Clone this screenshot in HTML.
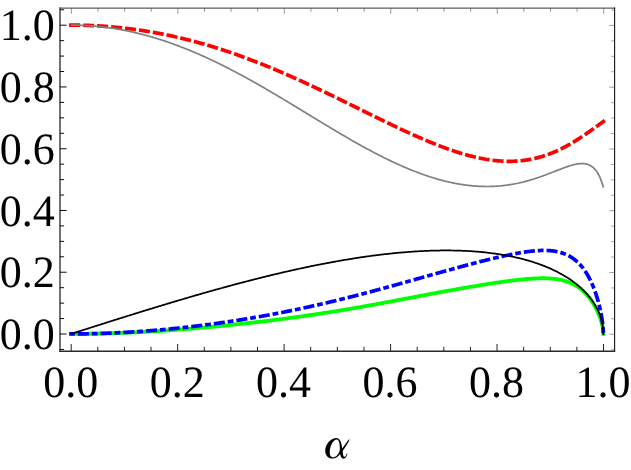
<!DOCTYPE html>
<html><head><meta charset="utf-8"><title>plot</title>
<style>
html,body{margin:0;padding:0;background:#fff;}
svg{display:block;will-change:transform;}
text{font-family:"Liberation Serif",serif;font-size:44px;fill:#000;text-rendering:geometricPrecision;}
.tb{stroke:#222;stroke-width:1.0;}
.tl{stroke:#000;stroke-width:0.95;}
.tt{stroke:#444;stroke-width:0.55;}
.tr{stroke:#555;stroke-width:0.55;}
.c{fill:none;stroke-linejoin:round;}
</style></head><body>
<svg width="631" height="470" viewBox="0 0 631 470">
<rect width="631" height="470" fill="#fff"/>
<!-- frame -->
<line x1="60.0" y1="7.6" x2="60.0" y2="352" stroke="#727272" stroke-width="2.0"/>
<line x1="59.3" y1="351.3" x2="615.1" y2="351.3" stroke="#2a2a2a" stroke-width="1.4"/>
<line x1="59.3" y1="8.2" x2="615.1" y2="8.2" stroke="#5a5a5a" stroke-width="1.3"/>
<line x1="614.6" y1="7.6" x2="614.6" y2="352" stroke="#111" stroke-width="1.1"/>
<line x1="71.20" y1="351" x2="71.20" y2="344.00" class="tb"/>
<line x1="71.40" y1="8" x2="71.40" y2="13.80" class="tt"/>
<line x1="97.81" y1="351" x2="97.81" y2="346.80" class="tb"/>
<line x1="98.02" y1="8" x2="98.02" y2="11.80" class="tt"/>
<line x1="124.43" y1="351" x2="124.43" y2="346.80" class="tb"/>
<line x1="124.63" y1="8" x2="124.63" y2="11.80" class="tt"/>
<line x1="151.04" y1="351" x2="151.04" y2="346.80" class="tb"/>
<line x1="151.25" y1="8" x2="151.25" y2="11.80" class="tt"/>
<line x1="177.66" y1="351" x2="177.66" y2="344.00" class="tb"/>
<line x1="177.86" y1="8" x2="177.86" y2="13.80" class="tt"/>
<line x1="204.27" y1="351" x2="204.27" y2="346.80" class="tb"/>
<line x1="204.47" y1="8" x2="204.47" y2="11.80" class="tt"/>
<line x1="230.89" y1="351" x2="230.89" y2="346.80" class="tb"/>
<line x1="231.09" y1="8" x2="231.09" y2="11.80" class="tt"/>
<line x1="257.50" y1="351" x2="257.50" y2="346.80" class="tb"/>
<line x1="257.70" y1="8" x2="257.70" y2="11.80" class="tt"/>
<line x1="284.12" y1="351" x2="284.12" y2="344.00" class="tb"/>
<line x1="284.32" y1="8" x2="284.32" y2="13.80" class="tt"/>
<line x1="310.73" y1="351" x2="310.73" y2="346.80" class="tb"/>
<line x1="310.93" y1="8" x2="310.93" y2="11.80" class="tt"/>
<line x1="337.35" y1="351" x2="337.35" y2="346.80" class="tb"/>
<line x1="337.55" y1="8" x2="337.55" y2="11.80" class="tt"/>
<line x1="363.96" y1="351" x2="363.96" y2="346.80" class="tb"/>
<line x1="364.16" y1="8" x2="364.16" y2="11.80" class="tt"/>
<line x1="390.58" y1="351" x2="390.58" y2="344.00" class="tb"/>
<line x1="390.78" y1="8" x2="390.78" y2="13.80" class="tt"/>
<line x1="417.19" y1="351" x2="417.19" y2="346.80" class="tb"/>
<line x1="417.39" y1="8" x2="417.39" y2="11.80" class="tt"/>
<line x1="443.81" y1="351" x2="443.81" y2="346.80" class="tb"/>
<line x1="444.01" y1="8" x2="444.01" y2="11.80" class="tt"/>
<line x1="470.42" y1="351" x2="470.42" y2="346.80" class="tb"/>
<line x1="470.62" y1="8" x2="470.62" y2="11.80" class="tt"/>
<line x1="497.04" y1="351" x2="497.04" y2="344.00" class="tb"/>
<line x1="497.24" y1="8" x2="497.24" y2="13.80" class="tt"/>
<line x1="523.65" y1="351" x2="523.65" y2="346.80" class="tb"/>
<line x1="523.85" y1="8" x2="523.85" y2="11.80" class="tt"/>
<line x1="550.27" y1="351" x2="550.27" y2="346.80" class="tb"/>
<line x1="550.47" y1="8" x2="550.47" y2="11.80" class="tt"/>
<line x1="576.88" y1="351" x2="576.88" y2="346.80" class="tb"/>
<line x1="577.08" y1="8" x2="577.08" y2="11.80" class="tt"/>
<line x1="603.50" y1="351" x2="603.50" y2="344.00" class="tb"/>
<line x1="603.70" y1="8" x2="603.70" y2="13.80" class="tt"/>
<line x1="60" y1="349.44" x2="64.10" y2="349.44" class="tl"/>
<line x1="614.5" y1="349.69" x2="611.20" y2="349.69" class="tr"/>
<line x1="60" y1="334.00" x2="66.60" y2="334.00" class="tl"/>
<line x1="614.5" y1="334.25" x2="609.20" y2="334.25" class="tr"/>
<line x1="60" y1="318.56" x2="64.10" y2="318.56" class="tl"/>
<line x1="614.5" y1="318.81" x2="611.20" y2="318.81" class="tr"/>
<line x1="60" y1="303.12" x2="64.10" y2="303.12" class="tl"/>
<line x1="614.5" y1="303.37" x2="611.20" y2="303.37" class="tr"/>
<line x1="60" y1="287.68" x2="64.10" y2="287.68" class="tl"/>
<line x1="614.5" y1="287.93" x2="611.20" y2="287.93" class="tr"/>
<line x1="60" y1="272.24" x2="66.60" y2="272.24" class="tl"/>
<line x1="614.5" y1="272.49" x2="609.20" y2="272.49" class="tr"/>
<line x1="60" y1="256.80" x2="64.10" y2="256.80" class="tl"/>
<line x1="614.5" y1="257.05" x2="611.20" y2="257.05" class="tr"/>
<line x1="60" y1="241.36" x2="64.10" y2="241.36" class="tl"/>
<line x1="614.5" y1="241.61" x2="611.20" y2="241.61" class="tr"/>
<line x1="60" y1="225.92" x2="64.10" y2="225.92" class="tl"/>
<line x1="614.5" y1="226.17" x2="611.20" y2="226.17" class="tr"/>
<line x1="60" y1="210.48" x2="66.60" y2="210.48" class="tl"/>
<line x1="614.5" y1="210.73" x2="609.20" y2="210.73" class="tr"/>
<line x1="60" y1="195.04" x2="64.10" y2="195.04" class="tl"/>
<line x1="614.5" y1="195.29" x2="611.20" y2="195.29" class="tr"/>
<line x1="60" y1="179.60" x2="64.10" y2="179.60" class="tl"/>
<line x1="614.5" y1="179.85" x2="611.20" y2="179.85" class="tr"/>
<line x1="60" y1="164.16" x2="64.10" y2="164.16" class="tl"/>
<line x1="614.5" y1="164.41" x2="611.20" y2="164.41" class="tr"/>
<line x1="60" y1="148.72" x2="66.60" y2="148.72" class="tl"/>
<line x1="614.5" y1="148.97" x2="609.20" y2="148.97" class="tr"/>
<line x1="60" y1="133.28" x2="64.10" y2="133.28" class="tl"/>
<line x1="614.5" y1="133.53" x2="611.20" y2="133.53" class="tr"/>
<line x1="60" y1="117.84" x2="64.10" y2="117.84" class="tl"/>
<line x1="614.5" y1="118.09" x2="611.20" y2="118.09" class="tr"/>
<line x1="60" y1="102.40" x2="64.10" y2="102.40" class="tl"/>
<line x1="614.5" y1="102.65" x2="611.20" y2="102.65" class="tr"/>
<line x1="60" y1="86.96" x2="66.60" y2="86.96" class="tl"/>
<line x1="614.5" y1="87.21" x2="609.20" y2="87.21" class="tr"/>
<line x1="60" y1="71.52" x2="64.10" y2="71.52" class="tl"/>
<line x1="614.5" y1="71.77" x2="611.20" y2="71.77" class="tr"/>
<line x1="60" y1="56.08" x2="64.10" y2="56.08" class="tl"/>
<line x1="614.5" y1="56.33" x2="611.20" y2="56.33" class="tr"/>
<line x1="60" y1="40.64" x2="64.10" y2="40.64" class="tl"/>
<line x1="614.5" y1="40.89" x2="611.20" y2="40.89" class="tr"/>
<line x1="60" y1="25.20" x2="66.60" y2="25.20" class="tl"/>
<line x1="614.5" y1="25.45" x2="609.20" y2="25.45" class="tr"/>
<line x1="60" y1="9.76" x2="64.10" y2="9.76" class="tl"/>
<line x1="614.5" y1="10.01" x2="611.20" y2="10.01" class="tr"/>
<path class="c" d="M71.00,333.90 L72.33,333.90 L73.10,333.90 L73.67,333.90 L75.00,333.89 L75.19,333.89 L76.34,333.89 L77.29,333.88 L77.67,333.88 L79.00,333.87 L79.38,333.87 L80.34,333.87 L81.48,333.86 L81.67,333.86 L83.01,333.84 L83.57,333.84 L84.34,333.83 L85.67,333.82 L85.67,333.82 L87.01,333.80 L87.76,333.79 L88.34,333.78 L89.68,333.76 L89.86,333.76 L91.01,333.74 L91.95,333.73 L92.35,333.72 L93.68,333.70 L94.04,333.69 L95.01,333.67 L96.14,333.65 L96.35,333.65 L97.68,333.62 L98.23,333.61 L99.02,333.59 L100.32,333.56 L100.35,333.56 L101.68,333.53 L102.42,333.51 L103.02,333.50 L104.35,333.46 L104.51,333.46 L105.69,333.43 L106.60,333.40 L107.02,333.39 L108.35,333.35 L108.69,333.35 L109.69,333.32 L110.78,333.28 L111.02,333.27 L112.36,333.23 L112.87,333.22 L113.69,333.19 L114.96,333.15 L115.02,333.15 L116.36,333.10 L117.05,333.08 L117.69,333.05 L119.03,333.00 L119.13,333.00 L120.36,332.95 L121.22,332.92 L121.70,332.90 L123.03,332.85 L123.30,332.84 L124.36,332.80 L125.39,332.75 L125.70,332.74 L127.03,332.69 L127.47,332.67 L128.37,332.63 L129.56,332.58 L129.70,332.57 L131.03,332.51 L131.64,332.48 L132.37,332.45 L133.70,332.39 L133.72,332.39 L135.04,332.32 L135.80,332.29 L136.37,332.26 L137.70,332.19 L137.88,332.18 L139.04,332.12 L139.96,332.08 L140.37,332.06 L141.71,331.99 L142.04,331.97 L143.04,331.92 L144.11,331.86 L144.37,331.84 L145.71,331.77 L146.19,331.74 L147.04,331.70 L148.26,331.63 L148.38,331.62 L149.71,331.54 L150.34,331.51 L151.05,331.47 L152.38,331.39 L152.41,331.39 L153.71,331.31 L154.48,331.26 L155.05,331.23 L156.38,331.14 L156.55,331.13 L157.72,331.06 L158.61,331.00 L159.05,330.98 L160.38,330.89 L160.68,330.87 L161.72,330.80 L162.74,330.74 L163.05,330.72 L164.39,330.63 L164.81,330.60 L165.72,330.54 L166.87,330.46 L167.05,330.45 L168.39,330.35 L168.93,330.32 L169.72,330.26 L170.99,330.17 L171.06,330.17 L172.39,330.07 L173.05,330.02 L173.72,329.98 L175.06,329.88 L175.10,329.87 L176.39,329.78 L177.16,329.72 L177.73,329.68 L179.06,329.58 L179.21,329.57 L180.39,329.48 L181.26,329.41 L181.73,329.38 L183.06,329.27 L183.31,329.25 L184.40,329.17 L185.36,329.09 L185.73,329.06 L187.07,328.96 L187.40,328.93 L188.40,328.85 L189.45,328.76 L189.73,328.74 L191.07,328.63 L191.49,328.60 L192.40,328.52 L193.53,328.43 L193.74,328.41 L195.07,328.30 L195.57,328.26 L196.40,328.19 L197.61,328.08 L197.74,328.07 L199.07,327.96 L199.64,327.91 L200.41,327.84 L201.67,327.73 L201.74,327.72 L203.07,327.61 L203.70,327.55 L204.41,327.49 L205.73,327.37 L205.74,327.37 L207.08,327.25 L207.76,327.19 L208.41,327.13 L209.74,327.00 L209.78,327.00 L211.08,326.88 L211.80,326.81 L212.41,326.76 L213.75,326.63 L213.82,326.63 L215.08,326.51 L215.84,326.43 L216.42,326.38 L217.75,326.25 L217.86,326.24 L219.08,326.12 L219.87,326.05 L220.42,325.99 L221.75,325.86 L221.88,325.85 L223.09,325.73 L223.89,325.65 L224.42,325.60 L225.75,325.47 L225.89,325.45 L227.09,325.33 L227.90,325.25 L228.42,325.20 L229.76,325.06 L229.90,325.05 L231.09,324.92 L231.90,324.84 L232.42,324.79 L233.76,324.65 L233.89,324.63 L235.09,324.51 L235.89,324.43 L236.43,324.37 L237.76,324.23 L237.88,324.21 L239.09,324.08 L239.87,324.00 L240.43,323.94 L241.76,323.80 L241.85,323.79 L243.10,323.65 L243.84,323.57 L244.43,323.51 L245.77,323.36 L245.82,323.35 L247.10,323.21 L247.80,323.14 L248.43,323.06 L249.77,322.91 L249.77,322.91 L251.10,322.76 L251.74,322.69 L252.44,322.61 L253.71,322.47 L253.77,322.46 L255.10,322.31 L255.68,322.24 L256.44,322.15 L257.64,322.01 L257.77,322.00 L259.11,321.84 L259.61,321.78 L260.44,321.69 L261.56,321.55 L261.77,321.53 L263.11,321.37 L263.52,321.32 L264.44,321.21 L265.47,321.08 L265.78,321.05 L267.11,320.89 L267.42,320.85 L268.44,320.72 L269.37,320.61 L269.78,320.56 L271.11,320.39 L271.31,320.37 L272.45,320.23 L273.25,320.13 L273.78,320.06 L275.12,319.89 L275.19,319.89 L276.45,319.73 L277.12,319.64 L277.78,319.56 L279.05,319.39 L279.12,319.39 L280.45,319.21 L280.98,319.15 L281.79,319.04 L282.90,318.90 L283.12,318.87 L284.45,318.69 L284.82,318.65 L285.79,318.52 L286.74,318.39 L287.12,318.34 L288.46,318.16 L288.65,318.14 L289.79,317.99 L290.56,317.88 L291.12,317.81 L292.46,317.62 L292.47,317.62 L293.79,317.44 L294.38,317.36 L295.13,317.26 L296.28,317.10 L296.46,317.08 L297.79,316.89 L298.17,316.84 L299.13,316.71 L300.07,316.57 L300.46,316.52 L301.80,316.33 L301.96,316.31 L303.13,316.14 L303.84,316.04 L304.46,315.95 L305.73,315.77 L305.80,315.76 L307.13,315.57 L307.60,315.50 L308.47,315.37 L309.48,315.23 L309.80,315.18 L311.14,314.98 L311.35,314.95 L312.47,314.79 L313.22,314.68 L313.80,314.59 L315.08,314.40 L315.14,314.39 L316.47,314.19 L316.94,314.12 L317.81,313.99 L318.80,313.84 L319.14,313.79 L320.47,313.58 L320.65,313.56 L321.81,313.38 L322.50,313.27 L323.14,313.18 L324.35,312.99 L324.48,312.97 L325.81,312.76 L326.19,312.70 L327.14,312.55 L328.02,312.42 L328.48,312.34 L329.81,312.13 L329.86,312.13 L331.15,311.92 L331.69,311.84 L332.48,311.71 L333.51,311.55 L333.81,311.50 L335.15,311.28 L335.33,311.25 L336.48,311.07 L337.15,310.96 L337.82,310.85 L338.96,310.66 L339.15,310.63 L340.49,310.41 L340.77,310.37 L341.82,310.19 L342.58,310.07 L343.15,309.97 L344.38,309.77 L344.49,309.75 L345.82,309.53 L346.17,309.47 L347.16,309.31 L347.96,309.17 L348.49,309.08 L349.75,308.87 L349.82,308.85 L351.16,308.63 L351.53,308.56 L352.49,308.40 L353.31,308.26 L353.83,308.17 L355.09,307.96 L355.16,307.94 L356.49,307.71 L356.86,307.65 L357.83,307.48 L358.62,307.34 L359.16,307.25 L360.38,307.04 L360.50,307.02 L361.83,306.78 L362.14,306.73 L363.16,306.55 L363.89,306.42 L364.50,306.31 L365.64,306.11 L365.83,306.08 L367.17,305.84 L367.38,305.80 L368.50,305.60 L369.12,305.49 L369.84,305.36 L370.86,305.18 L371.17,305.12 L372.50,304.88 L372.58,304.87 L373.84,304.64 L374.31,304.56 L375.17,304.40 L376.03,304.25 L376.51,304.16 L377.74,303.94 L377.84,303.92 L379.17,303.67 L379.45,303.62 L380.51,303.43 L381.16,303.31 L381.84,303.19 L382.86,303.00 L383.18,302.94 L384.51,302.69 L384.56,302.69 L385.84,302.45 L386.25,302.37 L387.18,302.20 L387.93,302.06 L388.51,301.95 L389.61,301.75 L389.85,301.71 L391.18,301.46 L391.29,301.44 L392.51,301.21 L392.96,301.13 L393.85,300.96 L394.63,300.81 L395.18,300.71 L396.29,300.50 L396.52,300.46 L397.85,300.21 L397.95,300.19 L399.18,299.96 L399.60,299.88 L400.52,299.71 L401.24,299.57 L401.85,299.46 L402.88,299.26 L403.19,299.21 L404.52,298.96 L404.52,298.96 L405.86,298.70 L406.15,298.65 L407.19,298.45 L407.78,298.34 L408.52,298.20 L409.40,298.04 L409.86,297.95 L411.01,297.73 L411.19,297.70 L412.53,297.45 L412.62,297.43 L413.86,297.19 L414.22,297.12 L415.19,296.94 L415.82,296.82 L416.53,296.69 L417.42,296.52 L417.86,296.44 L419.01,296.22 L419.20,296.19 L420.53,295.93 L420.59,295.92 L421.86,295.68 L422.17,295.63 L423.20,295.43 L423.74,295.33 L424.53,295.18 L425.31,295.03 L425.87,294.93 L426.87,294.74 L427.20,294.68 L428.42,294.45 L428.53,294.43 L429.87,294.18 L429.97,294.16 L431.20,293.93 L431.52,293.87 L432.54,293.68 L433.06,293.58 L433.87,293.43 L434.59,293.30 L435.21,293.18 L436.12,293.01 L436.54,292.93 L437.64,292.73 L437.87,292.69 L439.16,292.45 L439.21,292.44 L440.54,292.19 L440.67,292.17 L441.88,291.95 L442.17,291.89 L443.21,291.70 L443.67,291.62 L444.54,291.46 L445.16,291.34 L445.88,291.21 L446.65,291.07 L447.21,290.97 L448.13,290.80 L448.55,290.72 L449.61,290.53 L449.88,290.48 L451.08,290.27 L451.21,290.24 L452.54,290.00 L452.55,290.00 L453.88,289.76 L454.00,289.74 L455.22,289.52 L455.45,289.48 L456.55,289.28 L456.90,289.22 L457.88,289.05 L458.34,288.97 L459.22,288.81 L459.78,288.71 L460.55,288.58 L461.20,288.46 L461.89,288.34 L462.63,288.21 L463.22,288.11 L464.04,287.96 L464.56,287.87 L465.45,287.72 L465.89,287.64 L466.86,287.48 L467.22,287.41 L468.25,287.24 L468.56,287.18 L469.65,287.00 L469.89,286.96 L471.03,286.76 L471.23,286.73 L472.41,286.53 L472.56,286.50 L473.78,286.30 L473.89,286.28 L475.15,286.07 L475.23,286.05 L476.51,285.84 L476.56,285.83 L477.87,285.62 L477.90,285.61 L479.21,285.39 L479.23,285.39 L480.56,285.17 L480.56,285.17 L481.89,284.96 L481.90,284.96 L483.22,284.74 L483.23,284.74 L484.54,284.53 L484.57,284.53 L485.86,284.32 L485.90,284.31 L487.17,284.11 L487.23,284.10 L488.47,283.91 L488.57,283.90 L489.77,283.71 L489.90,283.69 L491.06,283.51 L491.24,283.48 L492.34,283.31 L492.57,283.28 L493.62,283.12 L493.91,283.08 L494.89,282.93 L495.24,282.88 L496.16,282.74 L496.57,282.68 L497.41,282.55 L497.91,282.48 L498.66,282.37 L499.24,282.29 L499.91,282.19 L500.58,282.10 L501.15,282.02 L501.91,281.91 L502.38,281.84 L503.24,281.72 L503.60,281.67 L504.58,281.54 L504.82,281.50 L505.91,281.35 L506.03,281.34 L507.23,281.18 L507.25,281.18 L508.43,281.02 L508.58,281.00 L509.62,280.87 L509.91,280.83 L510.81,280.71 L511.25,280.66 L511.98,280.57 L512.58,280.49 L513.15,280.42 L513.92,280.33 L514.32,280.28 L515.25,280.17 L515.47,280.14 L516.58,280.02 L516.62,280.01 L517.77,279.88 L517.92,279.87 L518.90,279.76 L519.25,279.72 L520.03,279.64 L520.59,279.58 L521.15,279.52 L521.92,279.44 L522.27,279.41 L523.25,279.31 L523.38,279.30 L524.48,279.20 L524.59,279.18 L525.57,279.10 L525.92,279.07 L526.66,279.00 L527.26,278.95 L527.74,278.91 L528.59,278.84 L528.81,278.83 L529.88,278.75 L529.93,278.74 L530.93,278.67 L531.26,278.65 L531.99,278.61 L532.59,278.57 L533.03,278.54 L533.93,278.49 L534.07,278.48 L535.10,278.43 L535.26,278.42 L536.12,278.39 L536.60,278.37 L537.13,278.35 L537.93,278.32 L538.14,278.31 L539.14,278.28 L539.26,278.28 L540.14,278.26 L540.60,278.26 L541.12,278.25 L541.93,278.24 L542.10,278.24 L543.08,278.24 L543.27,278.24 L544.04,278.25 L544.60,278.25 L545.00,278.26 L545.93,278.28 L545.95,278.28 L546.89,278.31 L547.27,278.33 L547.82,278.35 L548.60,278.39 L548.75,278.39 L549.67,278.45 L549.94,278.46 L550.59,278.51 L551.27,278.56 L551.49,278.58 L552.39,278.65 L552.60,278.67 L553.28,278.74 L553.94,278.81 L554.16,278.84 L555.04,278.94 L555.27,278.97 L555.91,279.06 L556.61,279.16 L556.77,279.18 L557.62,279.31 L557.94,279.36 L558.47,279.45 L559.28,279.60 L559.30,279.61 L560.13,279.77 L560.61,279.87 L560.96,279.94 L561.77,280.12 L561.94,280.16 L562.58,280.32 L563.28,280.49 L563.38,280.52 L564.17,280.73 L564.61,280.86 L564.96,280.96 L565.73,281.19 L565.95,281.26 L566.50,281.44 L567.27,281.70 L567.28,281.70 L568.02,281.96 L568.61,282.19 L568.77,282.24 L569.50,282.53 L569.95,282.71 L570.24,282.83 L570.96,283.15 L571.28,283.29 L571.67,283.47 L572.38,283.81 L572.62,283.92 L573.08,284.15 L573.77,284.51 L573.95,284.60 L574.46,284.88 L575.14,285.26 L575.28,285.34 L575.80,285.65 L576.46,286.05 L576.62,286.15 L577.12,286.46 L577.76,286.89 L577.95,287.02 L578.40,287.32 L579.03,287.77 L579.29,287.96 L579.65,288.23 L580.27,288.69 L580.62,288.97 L580.87,289.17 L581.47,289.66 L581.95,290.07 L582.06,290.16 L582.64,290.67 L583.22,291.19 L583.29,291.25 L583.78,291.71 L584.34,292.25 L584.62,292.53 L584.89,292.80 L585.43,293.35 L585.96,293.91 L585.97,293.92 L586.49,294.49 L587.01,295.07 L587.29,295.39 L587.52,295.66 L588.02,296.26 L588.52,296.86 L588.63,296.99 L589.01,297.47 L589.48,298.09 L589.95,298.71 L589.96,298.72 L590.42,299.34 L590.87,299.97 L591.29,300.58 L591.32,300.61 L591.75,301.26 L592.18,301.91 L592.61,302.56 L592.63,302.59 L593.02,303.22 L593.43,303.88 L593.82,304.54 L593.96,304.77 L594.21,305.20 L594.60,305.87 L594.97,306.54 L595.30,307.14 L595.33,307.21 L595.69,307.88 L596.04,308.55 L596.38,309.22 L596.63,309.72 L596.71,309.89 L597.04,310.56 L597.35,311.23 L597.66,311.89 L597.96,312.56 L597.96,312.56 L598.25,313.22 L598.54,313.88 L598.81,314.53 L599.08,315.19 L599.30,315.73 L599.34,315.83 L599.59,316.48 L599.83,317.12 L600.07,317.75 L600.30,318.38 L600.51,319.01 L600.63,319.36 L600.72,319.63 L600.93,320.25 L601.12,320.86 L601.30,321.46 L601.48,322.06 L601.65,322.65 L601.81,323.24 L601.96,323.83 L601.97,323.83 L602.11,324.40 L602.24,324.98 L602.37,325.55 L602.49,326.11 L602.60,326.67 L602.71,327.23 L602.80,327.78 L602.89,328.34 L602.97,328.89 L603.04,329.44 L603.10,329.98 L603.15,330.53 L603.20,331.08 L603.23,331.64 L603.26,332.20 L603.28,332.76 L603.30,333.32 L603.30,333.90 L603.65,335.77" stroke="#00ff00" stroke-width="3.8"/>
<path class="c" d="M69.10,333.90 L71.00,333.90 L72.33,333.90 L73.10,333.90 L73.67,333.90 L75.00,333.89 L75.19,333.89 L76.34,333.89 L77.29,333.88 L77.67,333.88 L79.00,333.87 L79.38,333.86 L80.34,333.85 L81.48,333.84 L81.67,333.84 L83.01,333.83 L83.57,333.82 L84.34,333.81 L85.67,333.79 L85.67,333.79 L87.01,333.77 L87.76,333.75 L88.34,333.74 L89.68,333.72 L89.86,333.72 L91.01,333.69 L91.95,333.67 L92.35,333.66 L93.68,333.63 L94.04,333.62 L95.01,333.60 L96.14,333.57 L96.35,333.57 L97.68,333.53 L98.23,333.52 L99.02,333.49 L100.32,333.45 L100.35,333.45 L101.68,333.41 L102.42,333.39 L103.02,333.37 L104.35,333.32 L104.51,333.32 L105.69,333.28 L106.60,333.24 L107.02,333.23 L108.35,333.18 L108.69,333.17 L109.69,333.13 L110.78,333.08 L111.02,333.07 L112.36,333.02 L112.87,332.99 L113.69,332.96 L114.96,332.90 L115.02,332.90 L116.36,332.84 L117.05,332.81 L117.69,332.78 L119.03,332.71 L119.13,332.71 L120.36,332.64 L121.22,332.60 L121.70,332.58 L123.03,332.51 L123.30,332.49 L124.36,332.43 L125.39,332.38 L125.70,332.36 L127.03,332.28 L127.47,332.26 L128.37,332.21 L129.56,332.14 L129.70,332.13 L131.03,332.05 L131.64,332.01 L132.37,331.97 L133.70,331.88 L133.72,331.88 L135.04,331.80 L135.80,331.75 L136.37,331.71 L137.70,331.62 L137.88,331.61 L139.04,331.53 L139.96,331.46 L140.37,331.44 L141.71,331.34 L142.04,331.32 L143.04,331.24 L144.11,331.17 L144.37,331.15 L145.71,331.05 L146.19,331.01 L147.04,330.95 L148.26,330.85 L148.38,330.84 L149.71,330.74 L150.34,330.69 L151.05,330.63 L152.38,330.52 L152.41,330.52 L153.71,330.41 L154.48,330.35 L155.05,330.30 L156.38,330.19 L156.55,330.18 L157.72,330.07 L158.61,330.00 L159.05,329.96 L160.38,329.84 L160.68,329.81 L161.72,329.72 L162.74,329.63 L163.05,329.60 L164.39,329.48 L164.81,329.44 L165.72,329.35 L166.87,329.24 L167.05,329.22 L168.39,329.10 L168.93,329.04 L169.72,328.97 L170.99,328.84 L171.06,328.84 L172.39,328.70 L173.05,328.64 L173.72,328.57 L175.06,328.43 L175.10,328.43 L176.39,328.30 L177.16,328.22 L177.73,328.16 L179.06,328.01 L179.21,328.00 L180.39,327.87 L181.26,327.78 L181.73,327.73 L183.06,327.58 L183.31,327.56 L184.40,327.44 L185.36,327.33 L185.73,327.29 L187.07,327.14 L187.40,327.10 L188.40,326.98 L189.45,326.86 L189.73,326.83 L191.07,326.68 L191.49,326.63 L192.40,326.52 L193.53,326.38 L193.74,326.36 L195.07,326.20 L195.57,326.14 L196.40,326.04 L197.61,325.89 L197.74,325.88 L199.07,325.71 L199.64,325.64 L200.41,325.54 L201.67,325.39 L201.74,325.38 L203.07,325.21 L203.70,325.13 L204.41,325.04 L205.73,324.87 L205.74,324.86 L207.08,324.69 L207.76,324.60 L208.41,324.51 L209.74,324.34 L209.78,324.33 L211.08,324.16 L211.80,324.06 L212.41,323.98 L213.75,323.80 L213.82,323.79 L215.08,323.61 L215.84,323.51 L216.42,323.43 L217.75,323.24 L217.86,323.23 L219.08,323.06 L219.87,322.94 L220.42,322.87 L221.75,322.67 L221.88,322.66 L223.09,322.48 L223.89,322.37 L224.42,322.29 L225.75,322.09 L225.89,322.07 L227.09,321.90 L227.90,321.78 L228.42,321.70 L229.76,321.50 L229.90,321.47 L231.09,321.29 L231.90,321.17 L232.42,321.09 L233.76,320.89 L233.89,320.87 L235.09,320.68 L235.89,320.56 L236.43,320.47 L237.76,320.26 L237.88,320.24 L239.09,320.05 L239.87,319.93 L240.43,319.84 L241.76,319.63 L241.85,319.61 L243.10,319.41 L243.84,319.29 L244.43,319.19 L245.77,318.97 L245.82,318.97 L247.10,318.75 L247.80,318.64 L248.43,318.53 L249.77,318.31 L249.77,318.31 L251.10,318.08 L251.74,317.97 L252.44,317.86 L253.71,317.64 L253.77,317.63 L255.10,317.40 L255.68,317.30 L256.44,317.17 L257.64,316.96 L257.77,316.94 L259.11,316.70 L259.61,316.61 L260.44,316.47 L261.56,316.27 L261.77,316.23 L263.11,315.99 L263.52,315.92 L264.44,315.75 L265.47,315.56 L265.78,315.51 L267.11,315.26 L267.42,315.21 L268.44,315.02 L269.37,314.85 L269.78,314.77 L271.11,314.52 L271.31,314.49 L272.45,314.27 L273.25,314.12 L273.78,314.02 L275.12,313.77 L275.19,313.76 L276.45,313.51 L277.12,313.39 L277.78,313.26 L279.05,313.01 L279.12,313.00 L280.45,312.74 L280.98,312.64 L281.79,312.48 L282.90,312.26 L283.12,312.22 L284.45,311.95 L284.82,311.88 L285.79,311.69 L286.74,311.50 L287.12,311.42 L288.46,311.15 L288.65,311.11 L289.79,310.88 L290.56,310.73 L291.12,310.61 L292.46,310.34 L292.47,310.34 L293.79,310.06 L294.38,309.94 L295.13,309.79 L296.28,309.55 L296.46,309.51 L297.79,309.23 L298.17,309.15 L299.13,308.95 L300.07,308.75 L300.46,308.67 L301.80,308.38 L301.96,308.35 L303.13,308.10 L303.84,307.94 L304.46,307.81 L305.73,307.53 L305.80,307.52 L307.13,307.23 L307.60,307.13 L308.47,306.94 L309.48,306.71 L309.80,306.64 L311.14,306.35 L311.35,306.30 L312.47,306.05 L313.22,305.88 L313.80,305.75 L315.08,305.47 L315.14,305.45 L316.47,305.15 L316.94,305.05 L317.81,304.85 L318.80,304.62 L319.14,304.55 L320.47,304.24 L320.65,304.20 L321.81,303.93 L322.50,303.77 L323.14,303.62 L324.35,303.34 L324.48,303.31 L325.81,303.00 L326.19,302.91 L327.14,302.69 L328.02,302.48 L328.48,302.37 L329.81,302.06 L329.86,302.05 L331.15,301.74 L331.69,301.61 L332.48,301.42 L333.51,301.17 L333.81,301.10 L335.15,300.78 L335.33,300.73 L336.48,300.46 L337.15,300.29 L337.82,300.13 L338.96,299.85 L339.15,299.80 L340.49,299.48 L340.77,299.41 L341.82,299.15 L342.58,298.96 L343.15,298.82 L344.38,298.51 L344.49,298.49 L345.82,298.15 L346.17,298.07 L347.16,297.82 L347.96,297.62 L348.49,297.48 L349.75,297.17 L349.82,297.15 L351.16,296.81 L351.53,296.71 L352.49,296.47 L353.31,296.26 L353.83,296.13 L355.09,295.81 L355.16,295.79 L356.49,295.44 L356.86,295.35 L357.83,295.10 L358.62,294.89 L359.16,294.75 L360.38,294.44 L360.50,294.41 L361.83,294.06 L362.14,293.98 L363.16,293.71 L363.89,293.52 L364.50,293.36 L365.64,293.06 L365.83,293.01 L367.17,292.66 L367.38,292.60 L368.50,292.30 L369.12,292.14 L369.84,291.95 L370.86,291.68 L371.17,291.60 L372.50,291.24 L372.58,291.22 L373.84,290.88 L374.31,290.76 L375.17,290.52 L376.03,290.29 L376.51,290.16 L377.74,289.83 L377.84,289.80 L379.17,289.44 L379.45,289.37 L380.51,289.08 L381.16,288.90 L381.84,288.72 L382.86,288.44 L383.18,288.36 L384.51,287.99 L384.56,287.98 L385.84,287.63 L386.25,287.52 L387.18,287.26 L387.93,287.05 L388.51,286.89 L389.61,286.59 L389.85,286.53 L391.18,286.16 L391.29,286.13 L392.51,285.79 L392.96,285.67 L393.85,285.42 L394.63,285.20 L395.18,285.05 L396.29,284.74 L396.52,284.68 L397.85,284.31 L397.95,284.28 L399.18,283.94 L399.60,283.82 L400.52,283.57 L401.24,283.36 L401.85,283.19 L402.88,282.91 L403.19,282.82 L404.52,282.45 L404.52,282.45 L405.86,282.07 L406.15,281.99 L407.19,281.70 L407.78,281.54 L408.52,281.33 L409.40,281.08 L409.86,280.95 L411.01,280.63 L411.19,280.58 L412.53,280.20 L412.62,280.18 L413.86,279.83 L414.22,279.72 L415.19,279.45 L415.82,279.27 L416.53,279.08 L417.42,278.83 L417.86,278.70 L419.01,278.38 L419.20,278.33 L420.53,277.95 L420.59,277.93 L421.86,277.57 L422.17,277.49 L423.20,277.20 L423.74,277.05 L424.53,276.82 L425.31,276.61 L425.87,276.45 L426.87,276.17 L427.20,276.07 L428.42,275.73 L428.53,275.70 L429.87,275.32 L429.97,275.29 L431.20,274.95 L431.52,274.86 L432.54,274.57 L433.06,274.43 L433.87,274.20 L434.59,274.00 L435.21,273.83 L436.12,273.57 L436.54,273.45 L437.64,273.15 L437.87,273.08 L439.16,272.72 L439.21,272.71 L440.54,272.34 L440.67,272.30 L441.88,271.96 L442.17,271.88 L443.21,271.59 L443.67,271.46 L444.54,271.22 L445.16,271.05 L445.88,270.85 L446.65,270.64 L447.21,270.48 L448.13,270.23 L448.55,270.11 L449.61,269.82 L449.88,269.75 L451.08,269.42 L451.21,269.38 L452.54,269.01 L452.55,269.01 L453.88,268.65 L454.00,268.61 L455.22,268.28 L455.45,268.22 L456.55,267.92 L456.90,267.82 L457.88,267.55 L458.34,267.43 L459.22,267.19 L459.78,267.04 L460.55,266.83 L461.20,266.65 L461.89,266.47 L462.63,266.27 L463.22,266.11 L464.04,265.89 L464.56,265.75 L465.45,265.51 L465.89,265.40 L466.86,265.14 L467.22,265.04 L468.25,264.77 L468.56,264.69 L469.65,264.40 L469.89,264.33 L471.03,264.03 L471.23,263.98 L472.41,263.67 L472.56,263.63 L473.78,263.31 L473.89,263.28 L475.15,262.96 L475.23,262.94 L476.51,262.60 L476.56,262.59 L477.87,262.25 L477.90,262.25 L479.21,261.91 L479.23,261.90 L480.56,261.57 L480.56,261.56 L481.89,261.23 L481.90,261.22 L483.22,260.89 L483.23,260.89 L484.54,260.56 L484.57,260.55 L485.86,260.23 L485.90,260.22 L487.17,259.91 L487.23,259.89 L488.47,259.59 L488.57,259.56 L489.77,259.27 L489.90,259.24 L491.06,258.95 L491.24,258.91 L492.34,258.65 L492.57,258.59 L493.62,258.34 L493.91,258.27 L494.89,258.04 L495.24,257.96 L496.16,257.74 L496.57,257.64 L497.41,257.45 L497.91,257.33 L498.66,257.16 L499.24,257.03 L499.91,256.88 L500.58,256.72 L501.15,256.60 L501.91,256.42 L502.38,256.32 L503.24,256.13 L503.60,256.05 L504.58,255.84 L504.82,255.78 L505.91,255.55 L506.03,255.52 L507.23,255.27 L507.25,255.26 L508.43,255.02 L508.58,254.98 L509.62,254.77 L509.91,254.71 L510.81,254.53 L511.25,254.44 L511.98,254.29 L512.58,254.17 L513.15,254.06 L513.92,253.92 L514.32,253.84 L515.25,253.66 L515.47,253.62 L516.58,253.41 L516.62,253.41 L517.77,253.20 L517.92,253.17 L518.90,253.00 L519.25,252.94 L520.03,252.80 L520.59,252.71 L521.15,252.62 L521.92,252.49 L522.27,252.43 L523.25,252.28 L523.38,252.26 L524.48,252.09 L524.59,252.07 L525.57,251.93 L525.92,251.88 L526.66,251.77 L527.26,251.69 L527.74,251.63 L528.59,251.52 L528.81,251.49 L529.88,251.36 L529.93,251.35 L530.93,251.23 L531.26,251.20 L531.99,251.12 L532.59,251.05 L533.03,251.01 L533.93,250.92 L534.07,250.91 L535.10,250.82 L535.26,250.81 L536.12,250.74 L536.60,250.70 L537.13,250.67 L537.93,250.62 L538.14,250.60 L539.14,250.55 L539.26,250.54 L540.14,250.50 L540.60,250.49 L541.12,250.47 L541.93,250.45 L542.10,250.44 L543.08,250.43 L543.27,250.43 L544.04,250.43 L544.60,250.43 L545.00,250.43 L545.93,250.45 L545.95,250.45 L546.89,250.48 L547.27,250.49 L547.82,250.52 L548.60,250.56 L548.75,250.57 L549.67,250.63 L549.94,250.65 L550.59,250.71 L551.27,250.77 L551.49,250.79 L552.39,250.89 L552.60,250.92 L553.28,251.01 L553.94,251.10 L554.16,251.13 L555.04,251.27 L555.27,251.31 L555.91,251.42 L556.61,251.55 L556.77,251.59 L557.62,251.76 L557.94,251.83 L558.47,251.96 L559.28,252.15 L559.30,252.16 L560.13,252.38 L560.61,252.51 L560.96,252.62 L561.77,252.87 L561.94,252.92 L562.58,253.13 L563.28,253.37 L563.38,253.41 L564.17,253.70 L564.61,253.87 L564.96,254.01 L565.73,254.34 L565.95,254.43 L566.50,254.68 L567.27,255.03 L567.28,255.04 L568.02,255.40 L568.61,255.71 L568.77,255.79 L569.50,256.19 L569.95,256.45 L570.24,256.61 L570.96,257.05 L571.28,257.25 L571.67,257.50 L572.38,257.97 L572.62,258.13 L573.08,258.45 L573.77,258.96 L573.95,259.09 L574.46,259.47 L575.14,260.01 L575.28,260.13 L575.80,260.56 L576.46,261.13 L576.62,261.26 L577.12,261.71 L577.76,262.31 L577.95,262.49 L578.40,262.93 L579.03,263.56 L579.29,263.82 L579.65,264.21 L580.27,264.87 L580.62,265.27 L580.87,265.55 L581.47,266.25 L581.95,266.83 L582.06,266.96 L582.64,267.69 L583.22,268.43 L583.29,268.53 L583.78,269.19 L584.34,269.97 L584.62,270.37 L584.89,270.76 L585.43,271.56 L585.96,272.36 L585.97,272.38 L586.49,273.21 L587.01,274.05 L587.29,274.52 L587.52,274.91 L588.02,275.78 L588.52,276.67 L588.63,276.86 L589.01,277.57 L589.48,278.48 L589.95,279.40 L589.96,279.41 L590.42,280.33 L590.87,281.27 L591.29,282.17 L591.32,282.22 L591.75,283.19 L592.18,284.16 L592.61,285.14 L592.63,285.19 L593.02,286.13 L593.43,287.13 L593.82,288.14 L593.96,288.49 L594.21,289.15 L594.60,290.17 L594.97,291.19 L595.30,292.11 L595.33,292.22 L595.69,293.25 L596.04,294.29 L596.38,295.33 L596.63,296.11 L596.71,296.38 L597.04,297.42 L597.35,298.47 L597.66,299.52 L597.96,300.57 L597.96,300.57 L598.25,301.62 L598.54,302.67 L598.81,303.71 L599.08,304.76 L599.30,305.63 L599.34,305.80 L599.59,306.84 L599.83,307.87 L600.07,308.90 L600.30,309.93 L600.51,310.95 L600.63,311.51 L600.72,311.96 L600.93,312.96 L601.12,313.96 L601.30,314.95 L601.48,315.93 L601.65,316.90 L601.81,317.86 L601.96,318.82 L601.97,318.83 L602.11,319.76 L602.24,320.69 L602.37,321.61 L602.49,322.51 L602.60,323.41 L602.71,324.29 L602.80,325.16 L602.89,326.02 L602.97,326.87 L603.04,327.70 L603.10,328.52 L603.15,329.33 L603.20,330.12 L603.23,330.90 L603.26,331.67 L603.28,332.43 L603.30,333.17 L603.30,333.90 L603.53,335.79" stroke="#0000ff" stroke-width="3.7" stroke-dasharray="5.75 2.95 11.1 2.95"/>
<path class="c" d="M71.00,333.90 L72.33,333.48 L73.10,333.23 L73.67,333.05 L75.00,332.63 L75.19,332.57 L76.34,332.20 L77.29,331.90 L77.67,331.78 L79.00,331.35 L79.38,331.23 L80.34,330.93 L81.48,330.56 L81.67,330.50 L83.01,330.08 L83.57,329.90 L84.34,329.65 L85.67,329.23 L85.67,329.23 L87.01,328.80 L87.76,328.56 L88.34,328.38 L89.68,327.96 L89.86,327.90 L91.01,327.53 L91.95,327.23 L92.35,327.11 L93.68,326.68 L94.04,326.57 L95.01,326.26 L96.14,325.90 L96.35,325.84 L97.68,325.41 L98.23,325.24 L99.02,324.99 L100.32,324.58 L100.35,324.57 L101.68,324.15 L102.42,323.91 L103.02,323.72 L104.35,323.30 L104.51,323.25 L105.69,322.88 L106.60,322.59 L107.02,322.46 L108.35,322.04 L108.69,321.93 L109.69,321.62 L110.78,321.27 L111.02,321.19 L112.36,320.77 L112.87,320.61 L113.69,320.35 L114.96,319.95 L115.02,319.93 L116.36,319.51 L117.05,319.30 L117.69,319.09 L119.03,318.67 L119.13,318.64 L120.36,318.25 L121.22,317.99 L121.70,317.84 L123.03,317.42 L123.30,317.33 L124.36,317.00 L125.39,316.68 L125.70,316.58 L127.03,316.17 L127.47,316.03 L128.37,315.75 L129.56,315.38 L129.70,315.33 L131.03,314.92 L131.64,314.73 L132.37,314.50 L133.70,314.08 L133.72,314.08 L135.04,313.67 L135.80,313.43 L136.37,313.26 L137.70,312.84 L137.88,312.79 L139.04,312.43 L139.96,312.14 L140.37,312.01 L141.71,311.60 L142.04,311.50 L143.04,311.19 L144.11,310.86 L144.37,310.78 L145.71,310.37 L146.19,310.22 L147.04,309.96 L148.26,309.58 L148.38,309.55 L149.71,309.14 L150.34,308.94 L151.05,308.73 L152.38,308.32 L152.41,308.31 L153.71,307.91 L154.48,307.68 L155.05,307.50 L156.38,307.10 L156.55,307.04 L157.72,306.69 L158.61,306.42 L159.05,306.28 L160.38,305.88 L160.68,305.79 L161.72,305.47 L162.74,305.16 L163.05,305.07 L164.39,304.67 L164.81,304.54 L165.72,304.26 L166.87,303.92 L167.05,303.86 L168.39,303.46 L168.93,303.30 L169.72,303.06 L170.99,302.68 L171.06,302.66 L172.39,302.26 L173.05,302.06 L173.72,301.86 L175.06,301.46 L175.10,301.45 L176.39,301.06 L177.16,300.84 L177.73,300.67 L179.06,300.27 L179.21,300.23 L180.39,299.87 L181.26,299.62 L181.73,299.48 L183.06,299.09 L183.31,299.01 L184.40,298.69 L185.36,298.41 L185.73,298.30 L187.07,297.91 L187.40,297.81 L188.40,297.52 L189.45,297.21 L189.73,297.13 L191.07,296.74 L191.49,296.62 L192.40,296.35 L193.53,296.02 L193.74,295.96 L195.07,295.58 L195.57,295.43 L196.40,295.19 L197.61,294.84 L197.74,294.80 L199.07,294.42 L199.64,294.26 L200.41,294.04 L201.67,293.67 L201.74,293.65 L203.07,293.27 L203.70,293.09 L204.41,292.89 L205.73,292.52 L205.74,292.51 L207.08,292.13 L207.76,291.94 L208.41,291.76 L209.74,291.38 L209.78,291.37 L211.08,291.00 L211.80,290.80 L212.41,290.63 L213.75,290.25 L213.82,290.23 L215.08,289.88 L215.84,289.67 L216.42,289.51 L217.75,289.14 L217.86,289.11 L219.08,288.77 L219.87,288.55 L220.42,288.40 L221.75,288.03 L221.88,287.99 L223.09,287.66 L223.89,287.44 L224.42,287.30 L225.75,286.93 L225.89,286.89 L227.09,286.57 L227.90,286.35 L228.42,286.20 L229.76,285.84 L229.90,285.80 L231.09,285.48 L231.90,285.26 L232.42,285.12 L233.76,284.76 L233.89,284.73 L235.09,284.41 L235.89,284.19 L236.43,284.05 L237.76,283.69 L237.88,283.66 L239.09,283.34 L239.87,283.13 L240.43,282.99 L241.76,282.63 L241.85,282.61 L243.10,282.28 L243.84,282.09 L244.43,281.94 L245.77,281.59 L245.82,281.57 L247.10,281.24 L247.80,281.06 L248.43,280.89 L249.77,280.55 L249.77,280.55 L251.10,280.21 L251.74,280.04 L252.44,279.86 L253.71,279.54 L253.77,279.52 L255.10,279.18 L255.68,279.04 L256.44,278.85 L257.64,278.54 L257.77,278.51 L259.11,278.17 L259.61,278.05 L260.44,277.84 L261.56,277.56 L261.77,277.51 L263.11,277.18 L263.52,277.07 L264.44,276.85 L265.47,276.59 L265.78,276.52 L267.11,276.19 L267.42,276.11 L268.44,275.86 L269.37,275.64 L269.78,275.54 L271.11,275.22 L271.31,275.17 L272.45,274.89 L273.25,274.70 L273.78,274.57 L275.12,274.25 L275.19,274.24 L276.45,273.94 L277.12,273.78 L277.78,273.62 L279.05,273.32 L279.12,273.31 L280.45,272.99 L280.98,272.87 L281.79,272.68 L282.90,272.42 L283.12,272.37 L284.45,272.06 L284.82,271.98 L285.79,271.76 L286.74,271.54 L287.12,271.45 L288.46,271.15 L288.65,271.10 L289.79,270.85 L290.56,270.67 L291.12,270.54 L292.46,270.25 L292.47,270.24 L293.79,269.95 L294.38,269.82 L295.13,269.65 L296.28,269.40 L296.46,269.36 L297.79,269.07 L298.17,268.98 L299.13,268.77 L300.07,268.57 L300.46,268.49 L301.80,268.20 L301.96,268.16 L303.13,267.91 L303.84,267.76 L304.46,267.63 L305.73,267.36 L305.80,267.35 L307.13,267.06 L307.60,266.97 L308.47,266.79 L309.48,266.57 L309.80,266.51 L311.14,266.23 L311.35,266.19 L312.47,265.96 L313.22,265.81 L313.80,265.69 L315.08,265.43 L315.14,265.42 L316.47,265.15 L316.94,265.05 L317.81,264.88 L318.80,264.69 L319.14,264.62 L320.47,264.36 L320.65,264.32 L321.81,264.09 L322.50,263.96 L323.14,263.84 L324.35,263.60 L324.48,263.58 L325.81,263.32 L326.19,263.25 L327.14,263.07 L328.02,262.90 L328.48,262.82 L329.81,262.57 L329.86,262.56 L331.15,262.32 L331.69,262.22 L332.48,262.08 L333.51,261.89 L333.81,261.83 L335.15,261.59 L335.33,261.56 L336.48,261.35 L337.15,261.24 L337.82,261.12 L338.96,260.92 L339.15,260.88 L340.49,260.65 L340.77,260.60 L341.82,260.42 L342.58,260.29 L343.15,260.19 L344.38,259.98 L344.49,259.96 L345.82,259.74 L346.17,259.68 L347.16,259.52 L347.96,259.38 L348.49,259.30 L349.75,259.09 L349.82,259.08 L351.16,258.86 L351.53,258.80 L352.49,258.65 L353.31,258.52 L353.83,258.44 L355.09,258.24 L355.16,258.23 L356.49,258.02 L356.86,257.97 L357.83,257.82 L358.62,257.70 L359.16,257.62 L360.38,257.43 L360.50,257.42 L361.83,257.22 L362.14,257.17 L363.16,257.02 L363.89,256.92 L364.50,256.83 L365.64,256.67 L365.83,256.64 L367.17,256.45 L367.38,256.42 L368.50,256.27 L369.12,256.18 L369.84,256.08 L370.86,255.95 L371.17,255.90 L372.50,255.73 L372.58,255.72 L373.84,255.55 L374.31,255.49 L375.17,255.38 L376.03,255.27 L376.51,255.21 L377.74,255.05 L377.84,255.04 L379.17,254.87 L379.45,254.84 L380.51,254.71 L381.16,254.63 L381.84,254.55 L382.86,254.43 L383.18,254.39 L384.51,254.24 L384.56,254.23 L385.84,254.09 L386.25,254.04 L387.18,253.94 L387.93,253.86 L388.51,253.79 L389.61,253.67 L389.85,253.65 L391.18,253.51 L391.29,253.50 L392.51,253.37 L392.96,253.32 L393.85,253.23 L394.63,253.16 L395.18,253.10 L396.29,252.99 L396.52,252.97 L397.85,252.85 L397.95,252.84 L399.18,252.72 L399.60,252.69 L400.52,252.60 L401.24,252.54 L401.85,252.48 L402.88,252.40 L403.19,252.37 L404.52,252.26 L404.52,252.26 L405.86,252.15 L406.15,252.13 L407.19,252.04 L407.78,252.00 L408.52,251.94 L409.40,251.88 L409.86,251.84 L411.01,251.76 L411.19,251.75 L412.53,251.65 L412.62,251.65 L413.86,251.56 L414.22,251.54 L415.19,251.48 L415.82,251.44 L416.53,251.39 L417.42,251.34 L417.86,251.31 L419.01,251.25 L419.20,251.24 L420.53,251.16 L420.59,251.16 L421.86,251.09 L422.17,251.08 L423.20,251.03 L423.74,251.00 L424.53,250.96 L425.31,250.93 L425.87,250.91 L426.87,250.86 L427.20,250.85 L428.42,250.80 L428.53,250.80 L429.87,250.75 L429.97,250.74 L431.20,250.70 L431.52,250.69 L432.54,250.66 L433.06,250.65 L433.87,250.62 L434.59,250.61 L435.21,250.59 L436.12,250.57 L436.54,250.56 L437.64,250.54 L437.87,250.53 L439.16,250.51 L439.21,250.51 L440.54,250.49 L440.67,250.49 L441.88,250.48 L442.17,250.47 L443.21,250.47 L443.67,250.46 L444.54,250.46 L445.16,250.46 L445.88,250.46 L446.65,250.46 L447.21,250.46 L448.13,250.46 L448.55,250.46 L449.61,250.47 L449.88,250.47 L451.08,250.48 L451.21,250.49 L452.54,250.50 L452.55,250.50 L453.88,250.53 L454.00,250.53 L455.22,250.55 L455.45,250.56 L456.55,250.58 L456.90,250.59 L457.88,250.62 L458.34,250.63 L459.22,250.66 L459.78,250.68 L460.55,250.70 L461.20,250.73 L461.89,250.75 L462.63,250.78 L463.22,250.81 L464.04,250.84 L464.56,250.87 L465.45,250.91 L465.89,250.93 L466.86,250.98 L467.22,251.00 L468.25,251.05 L468.56,251.07 L469.65,251.13 L469.89,251.15 L471.03,251.22 L471.23,251.23 L472.41,251.31 L472.56,251.32 L473.78,251.40 L473.89,251.41 L475.15,251.50 L475.23,251.51 L476.51,251.61 L476.56,251.61 L477.87,251.72 L477.90,251.72 L479.21,251.83 L479.23,251.84 L480.56,251.95 L480.56,251.96 L481.89,252.08 L481.90,252.08 L483.22,252.21 L483.23,252.21 L484.54,252.34 L484.57,252.35 L485.86,252.48 L485.90,252.49 L487.17,252.63 L487.23,252.64 L488.47,252.78 L488.57,252.79 L489.77,252.93 L489.90,252.95 L491.06,253.09 L491.24,253.12 L492.34,253.26 L492.57,253.29 L493.62,253.43 L493.91,253.47 L494.89,253.60 L495.24,253.65 L496.16,253.78 L496.57,253.84 L497.41,253.97 L497.91,254.04 L498.66,254.16 L499.24,254.25 L499.91,254.35 L500.58,254.46 L501.15,254.55 L501.91,254.68 L502.38,254.75 L503.24,254.90 L503.60,254.96 L504.58,255.13 L504.82,255.18 L505.91,255.37 L506.03,255.39 L507.23,255.62 L507.25,255.62 L508.43,255.84 L508.58,255.87 L509.62,256.08 L509.91,256.13 L510.81,256.31 L511.25,256.40 L511.98,256.56 L512.58,256.68 L513.15,256.80 L513.92,256.97 L514.32,257.05 L515.25,257.26 L515.47,257.31 L516.58,257.56 L516.62,257.57 L517.77,257.84 L517.92,257.87 L518.90,258.11 L519.25,258.19 L520.03,258.38 L520.59,258.52 L521.15,258.66 L521.92,258.85 L522.27,258.94 L523.25,259.20 L523.38,259.23 L524.48,259.53 L524.59,259.56 L525.57,259.82 L525.92,259.92 L526.66,260.12 L527.26,260.29 L527.74,260.43 L528.59,260.68 L528.81,260.74 L529.88,261.06 L529.93,261.07 L530.93,261.38 L531.26,261.48 L531.99,261.70 L532.59,261.89 L533.03,262.03 L533.93,262.32 L534.07,262.37 L535.10,262.70 L535.26,262.76 L536.12,263.05 L536.60,263.21 L537.13,263.39 L537.93,263.67 L538.14,263.74 L539.14,264.10 L539.26,264.14 L540.14,264.46 L540.60,264.63 L541.12,264.82 L541.93,265.12 L542.10,265.19 L543.08,265.56 L543.27,265.64 L544.04,265.94 L544.60,266.16 L545.00,266.32 L545.93,266.70 L545.95,266.70 L546.89,267.09 L547.27,267.25 L547.82,267.49 L548.60,267.82 L548.75,267.88 L549.67,268.28 L549.94,268.40 L550.59,268.69 L551.27,269.00 L551.49,269.10 L552.39,269.51 L552.60,269.61 L553.28,269.93 L553.94,270.24 L554.16,270.35 L555.04,270.78 L555.27,270.89 L555.91,271.21 L556.61,271.56 L556.77,271.64 L557.62,272.08 L557.94,272.24 L558.47,272.52 L559.28,272.95 L559.30,272.96 L560.13,273.41 L560.61,273.67 L560.96,273.86 L561.77,274.32 L561.94,274.41 L562.58,274.78 L563.28,275.18 L563.38,275.24 L564.17,275.71 L564.61,275.97 L564.96,276.18 L565.73,276.65 L565.95,276.78 L566.50,277.13 L567.27,277.61 L567.28,277.62 L568.02,278.10 L568.61,278.49 L568.77,278.59 L569.50,279.08 L569.95,279.38 L570.24,279.57 L570.96,280.07 L571.28,280.30 L571.67,280.57 L572.38,281.08 L572.62,281.25 L573.08,281.59 L573.77,282.10 L573.95,282.23 L574.46,282.61 L575.14,283.13 L575.28,283.25 L575.80,283.65 L576.46,284.18 L576.62,284.30 L577.12,284.71 L577.76,285.24 L577.95,285.40 L578.40,285.77 L579.03,286.31 L579.29,286.53 L579.65,286.85 L580.27,287.39 L580.62,287.71 L580.87,287.94 L581.47,288.49 L581.95,288.94 L582.06,289.04 L582.64,289.59 L583.22,290.15 L583.29,290.22 L583.78,290.71 L584.34,291.27 L584.62,291.56 L584.89,291.84 L585.43,292.41 L585.96,292.97 L585.97,292.98 L586.49,293.55 L587.01,294.13 L587.29,294.44 L587.52,294.71 L588.02,295.29 L588.52,295.87 L588.63,296.00 L589.01,296.46 L589.48,297.04 L589.95,297.63 L589.96,297.64 L590.42,298.23 L590.87,298.82 L591.29,299.39 L591.32,299.42 L591.75,300.02 L592.18,300.62 L592.61,301.22 L592.63,301.25 L593.02,301.83 L593.43,302.44 L593.82,303.05 L593.96,303.26 L594.21,303.66 L594.60,304.27 L594.97,304.89 L595.30,305.44 L595.33,305.51 L595.69,306.13 L596.04,306.75 L596.38,307.37 L596.63,307.84 L596.71,307.99 L597.04,308.62 L597.35,309.25 L597.66,309.88 L597.96,310.51 L597.96,310.51 L598.25,311.14 L598.54,311.78 L598.81,312.41 L599.08,313.05 L599.30,313.58 L599.34,313.69 L599.59,314.32 L599.83,314.96 L600.07,315.61 L600.30,316.25 L600.51,316.89 L600.63,317.25 L600.72,317.54 L600.93,318.18 L601.12,318.83 L601.30,319.48 L601.48,320.13 L601.65,320.78 L601.81,321.43 L601.96,322.08 L601.97,322.09 L602.11,322.73 L602.24,323.39 L602.37,324.04 L602.49,324.70 L602.60,325.35 L602.71,326.01 L602.80,326.66 L602.89,327.32 L602.97,327.98 L603.04,328.63 L603.10,329.29 L603.15,329.95 L603.20,330.61 L603.23,331.27 L603.26,331.92 L603.28,332.58 L603.30,333.24 L603.30,333.90 L603.45,334.79" stroke="#000" stroke-width="1.75"/>
<path class="c" d="M69.10,25.10 L71.00,25.10 L72.33,25.10 L73.10,25.10 L73.67,25.11 L75.00,25.12 L75.19,25.12 L76.34,25.13 L77.29,25.14 L77.67,25.15 L79.00,25.17 L79.38,25.17 L80.34,25.19 L81.48,25.22 L81.67,25.22 L83.01,25.25 L83.57,25.27 L84.34,25.29 L85.67,25.33 L85.67,25.33 L87.01,25.37 L87.76,25.40 L88.34,25.42 L89.68,25.47 L89.86,25.48 L91.01,25.53 L91.95,25.57 L92.35,25.58 L93.68,25.65 L94.04,25.66 L95.01,25.71 L96.14,25.77 L96.35,25.78 L97.68,25.86 L98.23,25.89 L99.02,25.94 L100.32,26.02 L100.35,26.02 L101.68,26.10 L102.42,26.15 L103.02,26.19 L104.35,26.29 L104.51,26.30 L105.69,26.38 L106.60,26.45 L107.02,26.48 L108.35,26.59 L108.69,26.61 L109.69,26.70 L110.78,26.79 L111.02,26.81 L112.36,26.92 L112.87,26.97 L113.69,27.04 L114.96,27.16 L115.02,27.17 L116.36,27.30 L117.05,27.36 L117.69,27.43 L119.03,27.56 L119.13,27.57 L120.36,27.70 L121.22,27.79 L121.70,27.84 L123.03,27.99 L123.30,28.02 L124.36,28.14 L125.39,28.26 L125.70,28.30 L127.03,28.45 L127.47,28.51 L128.37,28.62 L129.56,28.76 L129.70,28.78 L131.03,28.95 L131.64,29.03 L132.37,29.13 L133.70,29.30 L133.72,29.31 L135.04,29.48 L135.80,29.59 L136.37,29.67 L137.70,29.86 L137.88,29.88 L139.04,30.05 L139.96,30.19 L140.37,30.25 L141.71,30.45 L142.04,30.50 L143.04,30.66 L144.11,30.82 L144.37,30.86 L145.71,31.08 L146.19,31.15 L147.04,31.29 L148.26,31.49 L148.38,31.51 L149.71,31.74 L150.34,31.84 L151.05,31.96 L152.38,32.20 L152.41,32.20 L153.71,32.43 L154.48,32.57 L155.05,32.67 L156.38,32.92 L156.55,32.95 L157.72,33.16 L158.61,33.33 L159.05,33.41 L160.38,33.67 L160.68,33.73 L161.72,33.93 L162.74,34.13 L163.05,34.19 L164.39,34.46 L164.81,34.54 L165.72,34.73 L166.87,34.97 L167.05,35.00 L168.39,35.28 L168.93,35.40 L169.72,35.56 L170.99,35.84 L171.06,35.85 L172.39,36.14 L173.05,36.29 L173.72,36.43 L175.06,36.73 L175.10,36.74 L176.39,37.03 L177.16,37.21 L177.73,37.34 L179.06,37.65 L179.21,37.68 L180.39,37.96 L181.26,38.17 L181.73,38.28 L183.06,38.60 L183.31,38.66 L184.40,38.93 L185.36,39.16 L185.73,39.26 L187.07,39.59 L187.40,39.67 L188.40,39.92 L189.45,40.19 L189.73,40.26 L191.07,40.61 L191.49,40.72 L192.40,40.96 L193.53,41.25 L193.74,41.31 L195.07,41.66 L195.57,41.80 L196.40,42.02 L197.61,42.35 L197.74,42.39 L199.07,42.75 L199.64,42.91 L200.41,43.13 L201.67,43.48 L201.74,43.50 L203.07,43.88 L203.70,44.06 L204.41,44.26 L205.73,44.64 L205.74,44.65 L207.08,45.04 L207.76,45.24 L208.41,45.43 L209.74,45.83 L209.78,45.84 L211.08,46.23 L211.80,46.45 L212.41,46.63 L213.75,47.04 L213.82,47.06 L215.08,47.45 L215.84,47.69 L216.42,47.87 L217.75,48.29 L217.86,48.32 L219.08,48.71 L219.87,48.96 L220.42,49.14 L221.75,49.57 L221.88,49.61 L223.09,50.00 L223.89,50.26 L224.42,50.44 L225.75,50.88 L225.89,50.93 L227.09,51.32 L227.90,51.60 L228.42,51.77 L229.76,52.22 L229.90,52.27 L231.09,52.68 L231.90,52.96 L232.42,53.14 L233.76,53.60 L233.89,53.65 L235.09,54.07 L235.89,54.35 L236.43,54.54 L237.76,55.01 L237.88,55.05 L239.09,55.48 L239.87,55.76 L240.43,55.96 L241.76,56.45 L241.85,56.48 L243.10,56.93 L243.84,57.20 L244.43,57.42 L245.77,57.91 L245.82,57.93 L247.10,58.41 L247.80,58.67 L248.43,58.91 L249.77,59.41 L249.77,59.42 L251.10,59.92 L251.74,60.16 L252.44,60.43 L253.71,60.92 L253.77,60.94 L255.10,61.46 L255.68,61.68 L256.44,61.98 L257.64,62.45 L257.77,62.50 L259.11,63.02 L259.61,63.22 L260.44,63.55 L261.56,64.00 L261.77,64.08 L263.11,64.62 L263.52,64.78 L264.44,65.15 L265.47,65.57 L265.78,65.69 L267.11,66.24 L267.42,66.36 L268.44,66.78 L269.37,67.16 L269.78,67.33 L271.11,67.88 L271.31,67.97 L272.45,68.44 L273.25,68.77 L273.78,69.00 L275.12,69.56 L275.19,69.59 L276.45,70.12 L277.12,70.40 L277.78,70.69 L279.05,71.23 L279.12,71.25 L280.45,71.83 L280.98,72.05 L281.79,72.40 L282.90,72.88 L283.12,72.98 L284.45,73.56 L284.82,73.72 L285.79,74.14 L286.74,74.55 L287.12,74.72 L288.46,75.31 L288.65,75.39 L289.79,75.90 L290.56,76.24 L291.12,76.49 L292.46,77.08 L292.47,77.09 L293.79,77.68 L294.38,77.94 L295.13,78.28 L296.28,78.79 L296.46,78.88 L297.79,79.48 L298.17,79.65 L299.13,80.08 L300.07,80.51 L300.46,80.69 L301.80,81.30 L301.96,81.37 L303.13,81.91 L303.84,82.24 L304.46,82.53 L305.73,83.11 L305.80,83.14 L307.13,83.76 L307.60,83.98 L308.47,84.38 L309.48,84.85 L309.80,85.00 L311.14,85.62 L311.35,85.72 L312.47,86.25 L313.22,86.60 L313.80,86.87 L315.08,87.48 L315.14,87.50 L316.47,88.13 L316.94,88.36 L317.81,88.76 L318.80,89.24 L319.14,89.40 L320.47,90.03 L320.65,90.12 L321.81,90.67 L322.50,91.00 L323.14,91.31 L324.35,91.88 L324.48,91.95 L325.81,92.59 L326.19,92.77 L327.14,93.23 L328.02,93.65 L328.48,93.87 L329.81,94.52 L329.86,94.54 L331.15,95.16 L331.69,95.42 L332.48,95.81 L333.51,96.31 L333.81,96.46 L335.15,97.10 L335.33,97.19 L336.48,97.75 L337.15,98.08 L337.82,98.40 L338.96,98.96 L339.15,99.06 L340.49,99.71 L340.77,99.85 L341.82,100.36 L342.58,100.73 L343.15,101.02 L344.38,101.62 L344.49,101.67 L345.82,102.33 L346.17,102.50 L347.16,102.98 L347.96,103.38 L348.49,103.64 L349.75,104.26 L349.82,104.29 L351.16,104.95 L351.53,105.14 L352.49,105.61 L353.31,106.01 L353.83,106.27 L355.09,106.89 L355.16,106.92 L356.49,107.58 L356.86,107.76 L357.83,108.24 L358.62,108.63 L359.16,108.90 L360.38,109.50 L360.50,109.56 L361.83,110.22 L362.14,110.37 L363.16,110.87 L363.89,111.23 L364.50,111.53 L365.64,112.09 L365.83,112.19 L367.17,112.85 L367.38,112.95 L368.50,113.50 L369.12,113.81 L369.84,114.16 L370.86,114.66 L371.17,114.82 L372.50,115.47 L372.58,115.51 L373.84,116.13 L374.31,116.36 L375.17,116.78 L376.03,117.20 L376.51,117.43 L377.74,118.04 L377.84,118.09 L379.17,118.74 L379.45,118.87 L380.51,119.39 L381.16,119.70 L381.84,120.04 L382.86,120.53 L383.18,120.68 L384.51,121.33 L384.56,121.35 L385.84,121.98 L386.25,122.17 L387.18,122.62 L387.93,122.99 L388.51,123.26 L389.61,123.79 L389.85,123.91 L391.18,124.55 L391.29,124.60 L392.51,125.18 L392.96,125.40 L393.85,125.82 L394.63,126.19 L395.18,126.45 L396.29,126.98 L396.52,127.09 L397.85,127.72 L397.95,127.76 L399.18,128.34 L399.60,128.54 L400.52,128.97 L401.24,129.31 L401.85,129.59 L402.88,130.07 L403.19,130.22 L404.52,130.83 L404.52,130.83 L405.86,131.45 L406.15,131.59 L407.19,132.06 L407.78,132.33 L408.52,132.68 L409.40,133.07 L409.86,133.28 L411.01,133.81 L411.19,133.89 L412.53,134.49 L412.62,134.53 L413.86,135.09 L414.22,135.25 L415.19,135.68 L415.82,135.96 L416.53,136.28 L417.42,136.67 L417.86,136.87 L419.01,137.37 L419.20,137.45 L420.53,138.03 L420.59,138.06 L421.86,138.61 L422.17,138.74 L423.20,139.18 L423.74,139.41 L424.53,139.75 L425.31,140.08 L425.87,140.32 L426.87,140.74 L427.20,140.88 L428.42,141.39 L428.53,141.44 L429.87,141.99 L429.97,142.03 L431.20,142.54 L431.52,142.66 L432.54,143.08 L433.06,143.29 L433.87,143.62 L434.59,143.90 L435.21,144.15 L436.12,144.51 L436.54,144.68 L437.64,145.11 L437.87,145.20 L439.16,145.70 L439.21,145.72 L440.54,146.23 L440.67,146.28 L441.88,146.74 L442.17,146.85 L443.21,147.24 L443.67,147.41 L444.54,147.73 L445.16,147.96 L445.88,148.22 L446.65,148.50 L447.21,148.70 L448.13,149.03 L448.55,149.18 L449.61,149.55 L449.88,149.65 L451.08,150.06 L451.21,150.11 L452.54,150.56 L452.55,150.57 L453.88,151.01 L454.00,151.05 L455.22,151.46 L455.45,151.53 L456.55,151.89 L456.90,152.00 L457.88,152.32 L458.34,152.46 L459.22,152.74 L459.78,152.91 L460.55,153.15 L461.20,153.35 L461.89,153.55 L462.63,153.77 L463.22,153.95 L464.04,154.19 L464.56,154.33 L465.45,154.59 L465.89,154.71 L466.86,154.98 L467.22,155.08 L468.25,155.36 L468.56,155.45 L469.65,155.73 L469.89,155.80 L471.03,156.09 L471.23,156.14 L472.41,156.44 L472.56,156.48 L473.78,156.78 L473.89,156.80 L475.15,157.10 L475.23,157.12 L476.51,157.41 L476.56,157.42 L477.87,157.71 L477.90,157.72 L479.21,158.00 L479.23,158.00 L480.56,158.28 L480.56,158.28 L481.89,158.54 L481.90,158.54 L483.22,158.79 L483.23,158.80 L484.54,159.03 L484.57,159.04 L485.86,159.26 L485.90,159.27 L487.17,159.48 L487.23,159.49 L488.47,159.68 L488.57,159.70 L489.77,159.88 L489.90,159.90 L491.06,160.06 L491.24,160.08 L492.34,160.23 L492.57,160.25 L493.62,160.38 L493.91,160.42 L494.89,160.53 L495.24,160.56 L496.16,160.66 L496.57,160.70 L497.41,160.78 L497.91,160.82 L498.66,160.89 L499.24,160.93 L499.91,160.98 L500.58,161.03 L501.15,161.07 L501.91,161.11 L502.38,161.14 L503.24,161.18 L503.60,161.20 L504.58,161.24 L504.82,161.25 L505.91,161.28 L506.03,161.28 L507.23,161.31 L507.25,161.31 L508.43,161.32 L508.58,161.32 L509.62,161.32 L509.91,161.32 L510.81,161.31 L511.25,161.31 L511.98,161.29 L512.58,161.27 L513.15,161.26 L513.92,161.23 L514.32,161.21 L515.25,161.17 L515.47,161.16 L516.58,161.09 L516.62,161.09 L517.77,161.01 L517.92,161.00 L518.90,160.92 L519.25,160.89 L520.03,160.82 L520.59,160.77 L521.15,160.71 L521.92,160.63 L522.27,160.59 L523.25,160.47 L523.38,160.46 L524.48,160.32 L524.59,160.30 L525.57,160.16 L525.92,160.11 L526.66,160.00 L527.26,159.91 L527.74,159.83 L528.59,159.69 L528.81,159.65 L529.88,159.46 L529.93,159.45 L530.93,159.25 L531.26,159.19 L531.99,159.04 L532.59,158.92 L533.03,158.82 L533.93,158.63 L534.07,158.60 L535.10,158.36 L535.26,158.32 L536.12,158.11 L536.60,157.99 L537.13,157.86 L537.93,157.65 L538.14,157.59 L539.14,157.32 L539.26,157.29 L540.14,157.04 L540.60,156.91 L541.12,156.76 L541.93,156.52 L542.10,156.46 L543.08,156.16 L543.27,156.10 L544.04,155.85 L544.60,155.67 L545.00,155.54 L545.93,155.22 L545.95,155.22 L546.89,154.89 L547.27,154.75 L547.82,154.55 L548.60,154.27 L548.75,154.21 L549.67,153.87 L549.94,153.77 L550.59,153.52 L551.27,153.25 L551.49,153.16 L552.39,152.80 L552.60,152.71 L553.28,152.43 L553.94,152.15 L554.16,152.06 L555.04,151.68 L555.27,151.58 L555.91,151.30 L556.61,150.99 L556.77,150.91 L557.62,150.52 L557.94,150.38 L558.47,150.13 L559.28,149.75 L559.30,149.74 L560.13,149.34 L560.61,149.11 L560.96,148.94 L561.77,148.53 L561.94,148.45 L562.58,148.12 L563.28,147.77 L563.38,147.72 L564.17,147.30 L564.61,147.07 L564.96,146.89 L565.73,146.48 L565.95,146.36 L566.50,146.06 L567.27,145.64 L567.28,145.64 L568.02,145.23 L568.61,144.89 L568.77,144.81 L569.50,144.39 L569.95,144.14 L570.24,143.97 L570.96,143.55 L571.28,143.36 L571.67,143.13 L572.38,142.71 L572.62,142.57 L573.08,142.29 L573.77,141.88 L573.95,141.77 L574.46,141.46 L575.14,141.05 L575.28,140.95 L575.80,140.63 L576.46,140.22 L576.62,140.12 L577.12,139.81 L577.76,139.40 L577.95,139.28 L578.40,138.99 L579.03,138.59 L579.29,138.42 L579.65,138.18 L580.27,137.78 L580.62,137.55 L580.87,137.39 L581.47,136.99 L581.95,136.67 L582.06,136.60 L582.64,136.21 L583.22,135.83 L583.29,135.78 L583.78,135.45 L584.34,135.07 L584.62,134.88 L584.89,134.69 L585.43,134.32 L585.96,133.96 L585.97,133.96 L586.49,133.59 L587.01,133.24 L587.29,133.04 L587.52,132.88 L588.02,132.53 L588.52,132.19 L588.63,132.11 L589.01,131.85 L589.48,131.51 L589.95,131.18 L589.96,131.18 L590.42,130.85 L590.87,130.53 L591.29,130.23 L591.32,130.21 L591.75,129.90 L592.18,129.60 L592.61,129.30 L592.63,129.28 L593.02,129.00 L593.43,128.71 L593.82,128.43 L593.96,128.33 L594.21,128.15 L594.60,127.87 L594.97,127.60 L595.30,127.37 L595.33,127.34 L595.69,127.08 L596.04,126.83 L596.38,126.59 L596.63,126.41 L596.71,126.35 L597.04,126.11 L597.35,125.88 L597.66,125.66 L597.96,125.45 L597.96,125.45 L598.25,125.23 L598.54,125.03 L598.81,124.83 L599.08,124.64 L599.30,124.48 L599.34,124.45 L599.59,124.27 L599.83,124.09 L600.07,123.92 L600.30,123.76 L600.51,123.60 L600.63,123.52 L600.72,123.45 L600.93,123.31 L601.12,123.17 L601.30,123.03 L601.48,122.91 L601.65,122.79 L601.81,122.67 L601.96,122.56 L601.97,122.56 L602.11,122.46 L602.24,122.36 L602.37,122.27 L602.49,122.18 L602.60,122.10 L602.71,122.03 L602.80,121.96 L602.89,121.90 L602.97,121.84 L603.04,121.79 L603.10,121.75 L603.15,121.71 L603.20,121.67 L603.23,121.65 L603.26,121.63 L603.28,121.61 L603.30,121.60 L603.30,121.60 L604.84,120.49" stroke="#ff0000" stroke-width="3.7" stroke-dasharray="11.05 2.97"/>
<path class="c" d="M71.00,25.10 L72.33,25.10 L73.10,25.11 L73.67,25.11 L75.00,25.13 L75.19,25.13 L76.34,25.15 L77.29,25.17 L77.67,25.18 L79.00,25.22 L79.38,25.23 L80.34,25.26 L81.48,25.30 L81.67,25.31 L83.01,25.37 L83.57,25.39 L84.34,25.43 L85.67,25.50 L85.67,25.50 L87.01,25.57 L87.76,25.62 L88.34,25.65 L89.68,25.74 L89.86,25.76 L91.01,25.84 L91.95,25.91 L92.35,25.94 L93.68,26.05 L94.04,26.08 L95.01,26.16 L96.14,26.27 L96.35,26.29 L97.68,26.41 L98.23,26.47 L99.02,26.55 L100.32,26.69 L100.35,26.69 L101.68,26.84 L102.42,26.92 L103.02,26.99 L104.35,27.15 L104.51,27.17 L105.69,27.32 L106.60,27.44 L107.02,27.49 L108.35,27.67 L108.69,27.72 L109.69,27.86 L110.78,28.02 L111.02,28.05 L112.36,28.25 L112.87,28.33 L113.69,28.46 L114.96,28.66 L115.02,28.67 L116.36,28.89 L117.05,29.00 L117.69,29.11 L119.03,29.35 L119.13,29.36 L120.36,29.58 L121.22,29.74 L121.70,29.83 L123.03,30.08 L123.30,30.13 L124.36,30.34 L125.39,30.54 L125.70,30.60 L127.03,30.87 L127.47,30.96 L128.37,31.15 L129.56,31.40 L129.70,31.43 L131.03,31.72 L131.64,31.85 L132.37,32.01 L133.70,32.31 L133.72,32.32 L135.04,32.62 L135.80,32.80 L136.37,32.93 L137.70,33.25 L137.88,33.30 L139.04,33.58 L139.96,33.81 L140.37,33.91 L141.71,34.25 L142.04,34.34 L143.04,34.60 L144.11,34.88 L144.37,34.95 L145.71,35.30 L146.19,35.43 L147.04,35.67 L148.26,36.00 L148.38,36.04 L149.71,36.41 L150.34,36.59 L151.05,36.79 L152.38,37.18 L152.41,37.19 L153.71,37.57 L154.48,37.80 L155.05,37.97 L156.38,38.38 L156.55,38.43 L157.72,38.79 L158.61,39.07 L159.05,39.21 L160.38,39.63 L160.68,39.72 L161.72,40.06 L162.74,40.39 L163.05,40.49 L164.39,40.93 L164.81,41.07 L165.72,41.38 L166.87,41.77 L167.05,41.83 L168.39,42.29 L168.93,42.48 L169.72,42.75 L170.99,43.20 L171.06,43.22 L172.39,43.70 L173.05,43.93 L173.72,44.18 L175.06,44.66 L175.10,44.68 L176.39,45.16 L177.16,45.44 L177.73,45.65 L179.06,46.16 L179.21,46.21 L180.39,46.67 L181.26,47.00 L181.73,47.18 L183.06,47.70 L183.31,47.80 L184.40,48.22 L185.36,48.60 L185.73,48.75 L187.07,49.29 L187.40,49.43 L188.40,49.83 L189.45,50.26 L189.73,50.38 L191.07,50.93 L191.49,51.10 L192.40,51.48 L193.53,51.96 L193.74,52.04 L195.07,52.61 L195.57,52.82 L196.40,53.18 L197.61,53.70 L197.74,53.76 L199.07,54.34 L199.64,54.59 L200.41,54.93 L201.67,55.49 L201.74,55.52 L203.07,56.12 L203.70,56.40 L204.41,56.72 L205.73,57.32 L205.74,57.33 L207.08,57.94 L207.76,58.25 L208.41,58.55 L209.74,59.18 L209.78,59.19 L211.08,59.80 L211.80,60.14 L212.41,60.43 L213.75,61.07 L213.82,61.10 L215.08,61.71 L215.84,62.07 L216.42,62.35 L217.75,63.00 L217.86,63.05 L219.08,63.65 L219.87,64.04 L220.42,64.31 L221.75,64.97 L221.88,65.03 L223.09,65.63 L223.89,66.04 L224.42,66.30 L225.75,66.98 L225.89,67.05 L227.09,67.66 L227.90,68.07 L228.42,68.34 L229.76,69.02 L229.90,69.10 L231.09,69.71 L231.90,70.13 L232.42,70.41 L233.76,71.11 L233.89,71.18 L235.09,71.81 L235.89,72.23 L236.43,72.51 L237.76,73.22 L237.88,73.29 L239.09,73.94 L239.87,74.35 L240.43,74.65 L241.76,75.37 L241.85,75.42 L243.10,76.10 L243.84,76.50 L244.43,76.82 L245.77,77.55 L245.82,77.58 L247.10,78.29 L247.80,78.67 L248.43,79.02 L249.77,79.76 L249.77,79.76 L251.10,80.51 L251.74,80.86 L252.44,81.25 L253.71,81.97 L253.77,82.00 L255.10,82.75 L255.68,83.08 L256.44,83.51 L257.64,84.19 L257.77,84.27 L259.11,85.03 L259.61,85.31 L260.44,85.79 L261.56,86.43 L261.77,86.56 L263.11,87.32 L263.52,87.56 L264.44,88.10 L265.47,88.69 L265.78,88.87 L267.11,89.64 L267.42,89.82 L268.44,90.42 L269.37,90.96 L269.78,91.20 L271.11,91.98 L271.31,92.10 L272.45,92.77 L273.25,93.24 L273.78,93.56 L275.12,94.34 L275.19,94.39 L276.45,95.13 L277.12,95.53 L277.78,95.93 L279.05,96.68 L279.12,96.72 L280.45,97.52 L280.98,97.83 L281.79,98.31 L282.90,98.98 L283.12,99.11 L284.45,99.91 L284.82,100.13 L285.79,100.71 L286.74,101.29 L287.12,101.52 L288.46,102.32 L288.65,102.44 L289.79,103.12 L290.56,103.59 L291.12,103.93 L292.46,104.74 L292.47,104.75 L293.79,105.54 L294.38,105.90 L295.13,106.35 L296.28,107.05 L296.46,107.16 L297.79,107.97 L298.17,108.20 L299.13,108.78 L300.07,109.35 L300.46,109.59 L301.80,110.41 L301.96,110.50 L303.13,111.22 L303.84,111.65 L304.46,112.03 L305.73,112.80 L305.80,112.84 L307.13,113.65 L307.60,113.94 L308.47,114.47 L309.48,115.08 L309.80,115.28 L311.14,116.09 L311.35,116.22 L312.47,116.90 L313.22,117.36 L313.80,117.71 L315.08,118.49 L315.14,118.52 L316.47,119.34 L316.94,119.62 L317.81,120.15 L318.80,120.75 L319.14,120.95 L320.47,121.76 L320.65,121.87 L321.81,122.57 L322.50,122.99 L323.14,123.38 L324.35,124.10 L324.48,124.18 L325.81,124.99 L326.19,125.21 L327.14,125.79 L328.02,126.32 L328.48,126.59 L329.81,127.39 L329.86,127.42 L331.15,128.19 L331.69,128.52 L332.48,128.99 L333.51,129.61 L333.81,129.79 L335.15,130.58 L335.33,130.69 L336.48,131.37 L337.15,131.77 L337.82,132.16 L338.96,132.84 L339.15,132.95 L340.49,133.74 L340.77,133.91 L341.82,134.52 L342.58,134.96 L343.15,135.30 L344.38,136.02 L344.49,136.08 L345.82,136.86 L346.17,137.06 L347.16,137.63 L347.96,138.10 L348.49,138.40 L349.75,139.13 L349.82,139.17 L351.16,139.94 L351.53,140.16 L352.49,140.70 L353.31,141.17 L353.83,141.46 L355.09,142.18 L355.16,142.22 L356.49,142.97 L356.86,143.18 L357.83,143.72 L358.62,144.17 L359.16,144.47 L360.38,145.15 L360.50,145.21 L361.83,145.95 L362.14,146.13 L363.16,146.69 L363.89,147.09 L364.50,147.42 L365.64,148.05 L365.83,148.15 L367.17,148.88 L367.38,148.99 L368.50,149.60 L369.12,149.93 L369.84,150.31 L370.86,150.86 L371.17,151.03 L372.50,151.73 L372.58,151.78 L373.84,152.44 L374.31,152.69 L375.17,153.14 L376.03,153.58 L376.51,153.83 L377.74,154.47 L377.84,154.52 L379.17,155.21 L379.45,155.35 L380.51,155.89 L381.16,156.22 L381.84,156.56 L382.86,157.07 L383.18,157.23 L384.51,157.89 L384.56,157.92 L385.84,158.55 L386.25,158.75 L387.18,159.21 L387.93,159.58 L388.51,159.86 L389.61,160.39 L389.85,160.50 L391.18,161.14 L391.29,161.19 L392.51,161.77 L392.96,161.98 L393.85,162.40 L394.63,162.76 L395.18,163.02 L396.29,163.53 L396.52,163.63 L397.85,164.24 L397.95,164.28 L399.18,164.84 L399.60,165.02 L400.52,165.43 L401.24,165.76 L401.85,166.02 L402.88,166.47 L403.19,166.61 L404.52,167.18 L404.52,167.18 L405.86,167.75 L406.15,167.88 L407.19,168.31 L407.78,168.56 L408.52,168.87 L409.40,169.23 L409.86,169.42 L411.01,169.89 L411.19,169.96 L412.53,170.50 L412.62,170.53 L413.86,171.02 L414.22,171.17 L415.19,171.55 L415.82,171.79 L416.53,172.06 L417.42,172.40 L417.86,172.56 L419.01,172.99 L419.20,173.06 L420.53,173.55 L420.59,173.57 L421.86,174.04 L422.17,174.14 L423.20,174.51 L423.74,174.70 L424.53,174.98 L425.31,175.25 L425.87,175.44 L426.87,175.78 L427.20,175.89 L428.42,176.29 L428.53,176.33 L429.87,176.77 L429.97,176.80 L431.20,177.19 L431.52,177.29 L432.54,177.61 L433.06,177.77 L433.87,178.02 L434.59,178.24 L435.21,178.42 L436.12,178.69 L436.54,178.81 L437.64,179.13 L437.87,179.20 L439.16,179.56 L439.21,179.57 L440.54,179.94 L440.67,179.97 L441.88,180.30 L442.17,180.37 L443.21,180.64 L443.67,180.76 L444.54,180.98 L445.16,181.14 L445.88,181.31 L446.65,181.50 L447.21,181.63 L448.13,181.85 L448.55,181.94 L449.61,182.18 L449.88,182.24 L451.08,182.51 L451.21,182.53 L452.54,182.82 L452.55,182.82 L453.88,183.09 L454.00,183.11 L455.22,183.35 L455.45,183.40 L456.55,183.60 L456.90,183.67 L457.88,183.85 L458.34,183.93 L459.22,184.08 L459.78,184.17 L460.55,184.30 L461.20,184.40 L461.89,184.51 L462.63,184.62 L463.22,184.71 L464.04,184.83 L464.56,184.90 L465.45,185.03 L465.89,185.08 L466.86,185.21 L467.22,185.25 L468.25,185.38 L468.56,185.41 L469.65,185.54 L469.89,185.56 L471.03,185.68 L471.23,185.70 L472.41,185.81 L472.56,185.83 L473.78,185.94 L473.89,185.94 L475.15,186.04 L475.23,186.05 L476.51,186.14 L476.56,186.14 L477.87,186.22 L477.90,186.23 L479.21,186.30 L479.23,186.30 L480.56,186.36 L480.56,186.36 L481.89,186.41 L481.90,186.41 L483.22,186.44 L483.23,186.44 L484.54,186.47 L484.57,186.47 L485.86,186.48 L485.90,186.48 L487.17,186.49 L487.23,186.49 L488.47,186.48 L488.57,186.48 L489.77,186.46 L489.90,186.46 L491.06,186.43 L491.24,186.42 L492.34,186.39 L492.57,186.38 L493.62,186.34 L493.91,186.32 L494.89,186.27 L495.24,186.25 L496.16,186.20 L496.57,186.17 L497.41,186.12 L497.91,186.08 L498.66,186.02 L499.24,185.98 L499.91,185.92 L500.58,185.86 L501.15,185.81 L501.91,185.73 L502.38,185.68 L503.24,185.59 L503.60,185.55 L504.58,185.43 L504.82,185.40 L505.91,185.27 L506.03,185.25 L507.23,185.09 L507.25,185.09 L508.43,184.92 L508.58,184.90 L509.62,184.74 L509.91,184.69 L510.81,184.55 L511.25,184.48 L511.98,184.35 L512.58,184.25 L513.15,184.15 L513.92,184.01 L514.32,183.94 L515.25,183.76 L515.47,183.71 L516.58,183.49 L516.62,183.48 L517.77,183.25 L517.92,183.21 L518.90,183.00 L519.25,182.92 L520.03,182.75 L520.59,182.62 L521.15,182.49 L521.92,182.31 L522.27,182.23 L523.25,181.98 L523.38,181.95 L524.48,181.67 L524.59,181.64 L525.57,181.39 L525.92,181.30 L526.66,181.10 L527.26,180.93 L527.74,180.80 L528.59,180.56 L528.81,180.50 L529.88,180.19 L529.93,180.18 L530.93,179.88 L531.26,179.78 L531.99,179.56 L532.59,179.38 L533.03,179.24 L533.93,178.96 L534.07,178.91 L535.10,178.58 L535.26,178.53 L536.12,178.25 L536.60,178.09 L537.13,177.91 L537.93,177.65 L538.14,177.57 L539.14,177.23 L539.26,177.19 L540.14,176.89 L540.60,176.72 L541.12,176.54 L541.93,176.25 L542.10,176.19 L543.08,175.84 L543.27,175.77 L544.04,175.48 L544.60,175.28 L545.00,175.13 L545.93,174.78 L545.95,174.77 L546.89,174.42 L547.27,174.28 L547.82,174.06 L548.60,173.77 L548.75,173.71 L549.67,173.35 L549.94,173.25 L550.59,173.00 L551.27,172.73 L551.49,172.65 L552.39,172.30 L552.60,172.21 L553.28,171.95 L553.94,171.69 L554.16,171.60 L555.04,171.26 L555.27,171.16 L555.91,170.92 L556.61,170.64 L556.77,170.58 L557.62,170.24 L557.94,170.12 L558.47,169.91 L559.28,169.60 L559.30,169.59 L560.13,169.26 L560.61,169.08 L560.96,168.95 L561.77,168.64 L561.94,168.57 L562.58,168.33 L563.28,168.07 L563.38,168.03 L564.17,167.74 L564.61,167.58 L564.96,167.45 L565.73,167.18 L565.95,167.10 L566.50,166.91 L567.27,166.64 L567.28,166.64 L568.02,166.39 L568.61,166.19 L568.77,166.14 L569.50,165.91 L569.95,165.77 L570.24,165.68 L570.96,165.46 L571.28,165.37 L571.67,165.25 L572.38,165.06 L572.62,164.99 L573.08,164.87 L573.77,164.70 L573.95,164.65 L574.46,164.53 L575.14,164.38 L575.28,164.35 L575.80,164.24 L576.46,164.11 L576.62,164.09 L577.12,164.00 L577.76,163.90 L577.95,163.87 L578.40,163.81 L579.03,163.73 L579.29,163.71 L579.65,163.67 L580.27,163.63 L580.62,163.61 L580.87,163.59 L581.47,163.58 L581.95,163.57 L582.06,163.57 L582.64,163.58 L583.22,163.61 L583.29,163.61 L583.78,163.65 L584.34,163.71 L584.62,163.74 L584.89,163.78 L585.43,163.87 L585.96,163.97 L585.97,163.97 L586.49,164.09 L587.01,164.23 L587.29,164.31 L587.52,164.38 L588.02,164.55 L588.52,164.74 L588.63,164.78 L589.01,164.94 L589.48,165.15 L589.95,165.38 L589.96,165.39 L590.42,165.63 L590.87,165.90 L591.29,166.16 L591.32,166.18 L591.75,166.47 L592.18,166.78 L592.61,167.11 L592.63,167.12 L593.02,167.45 L593.43,167.80 L593.82,168.17 L593.96,168.30 L594.21,168.55 L594.60,168.95 L594.97,169.36 L595.30,169.73 L595.33,169.78 L595.69,170.21 L596.04,170.66 L596.38,171.11 L596.63,171.46 L596.71,171.58 L597.04,172.05 L597.35,172.54 L597.66,173.03 L597.96,173.53 L597.96,173.54 L598.25,174.04 L598.54,174.56 L598.81,175.08 L599.08,175.60 L599.30,176.04 L599.34,176.13 L599.59,176.66 L599.83,177.19 L600.07,177.72 L600.30,178.25 L600.51,178.78 L600.63,179.07 L600.72,179.31 L600.93,179.83 L601.12,180.34 L601.30,180.85 L601.48,181.35 L601.65,181.84 L601.81,182.31 L601.96,182.78 L601.97,182.78 L602.11,183.23 L602.24,183.66 L602.37,184.07 L602.49,184.47 L602.60,184.84 L602.71,185.19 L602.80,185.51 L602.89,185.81 L602.97,186.08 L603.04,186.31 L603.10,186.51 L603.15,186.68 L603.20,186.81 L603.23,186.90 L603.26,186.94 L603.28,186.94 L603.30,186.90 L603.30,186.80 L603.60,187.65" stroke="#808080" stroke-width="1.7"/>
<text transform="translate(54.85,349.25) scale(1,1.02)" text-anchor="end">0.0</text>
<text transform="translate(70.70,397.3) scale(1,1.02)" text-anchor="middle">0.0</text>
<text transform="translate(54.85,287.49) scale(1,1.02)" text-anchor="end">0.2</text>
<text transform="translate(177.16,397.3) scale(1,1.02)" text-anchor="middle">0.2</text>
<text transform="translate(54.85,225.73) scale(1,1.02)" text-anchor="end">0.4</text>
<text transform="translate(283.62,397.3) scale(1,1.02)" text-anchor="middle">0.4</text>
<text transform="translate(54.85,163.97) scale(1,1.02)" text-anchor="end">0.6</text>
<text transform="translate(390.08,397.3) scale(1,1.02)" text-anchor="middle">0.6</text>
<text transform="translate(54.85,102.21) scale(1,1.02)" text-anchor="end">0.8</text>
<text transform="translate(496.54,397.3) scale(1,1.02)" text-anchor="middle">0.8</text>
<text transform="translate(54.85,40.45) scale(1,1.02)" text-anchor="end">1.0</text>
<text transform="translate(603.00,397.3) scale(1,1.02)" text-anchor="middle">1.0</text>
<path id="alpha" transform="translate(320,432) scale(0.06383)" fill="#000" fill-rule="evenodd" d="M450,121 L468,112 C440,168 392,246 357,294 C358,345 364,388 386,388 C400,388 411,365 419,335 L430,338 C421,385 400,418 367,418 C335,418 322,385 316,346 C288,388 245,417 198,417 C122,417 80,360 82,290 C84,190 172,95 258,95 C308,95 338,160 348,258 C386,204 426,148 450,121 Z M264,116 C204,116 152,226 152,318 C152,372 172,398 205,398 C252,398 302,340 311,280 C314,200 302,116 264,116 Z"/>
</svg>
</body></html>
